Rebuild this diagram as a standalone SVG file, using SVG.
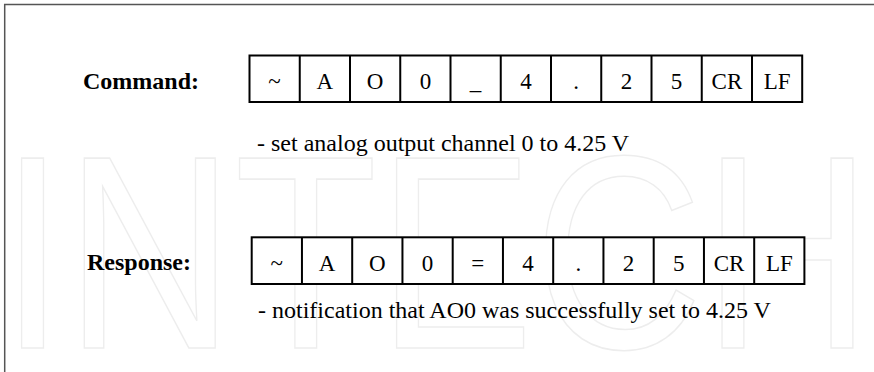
<svg xmlns="http://www.w3.org/2000/svg" width="874" height="372" viewBox="0 0 874 372">
<style>
.bg{fill:#ffffff}
.frame{stroke:#555555;stroke-width:1.5;fill:none}
.wm{font-family:"Liberation Sans",Arial,sans-serif;font-size:276px;fill:none;stroke:#ededed;stroke-width:1.6}
.cell{fill:#ffffff;stroke:#000000;stroke-width:2}
.lbl{font-family:"Liberation Serif","Times New Roman",serif;font-size:24px;font-weight:bold;fill:#000000}
.ct{font-family:"Liberation Serif","Times New Roman",serif;font-size:23px;fill:#000000;text-anchor:middle}
.desc{font-family:"Liberation Serif","Times New Roman",serif;font-size:24px;fill:#000000}
</style>
<rect class="bg" x="0" y="0" width="874" height="372"/>
<text class="wm" x="0" y="348" textLength="872" lengthAdjust="spacingAndGlyphs">INTECH</text>
<path class="frame" d="M4.7,372 V4.5 H874"/>
<g id="connectors"/>
<g id="command-label"><text class="lbl" x="83" y="89">Command:</text></g>
<g id="command-frame">
<rect class="cell" x="249.5" y="55.5" width="552.7" height="46.5"/>
<path class="cell" d="M299.75,55.5V102M350,55.5V102M400.25,55.5V102M450.5,55.5V102M500.75,55.5V102M551,55.5V102M601.25,55.5V102M651.5,55.5V102M701.75,55.5V102M752,55.5V102"/>
<text class="ct" y="88.5"><tspan x="274.6">~</tspan><tspan x="324.9">A</tspan><tspan x="375.1">O</tspan><tspan x="425.4">0</tspan><tspan x="475.6">_</tspan><tspan x="525.9">4</tspan><tspan x="576.1">.</tspan><tspan x="626.4">2</tspan><tspan x="676.6">5</tspan><tspan x="726.9">CR</tspan><tspan x="777.1">LF</tspan></text>
</g>
<g id="command-desc"><text class="desc" x="257" y="151">- set analog output channel 0 to 4.25 V</text></g>
<g id="response-label"><text class="lbl" x="87" y="270">Response:</text></g>
<g id="response-frame">
<rect class="cell" x="251.7" y="237.3" width="552.7" height="46.7"/>
<path class="cell" d="M301.95,237.3V284M352.2,237.3V284M402.45,237.3V284M452.7,237.3V284M502.95,237.3V284M553.2,237.3V284M603.45,237.3V284M653.7,237.3V284M703.95,237.3V284M754.2,237.3V284"/>
<text class="ct" y="270.5"><tspan x="276.8">~</tspan><tspan x="327.1">A</tspan><tspan x="377.3">O</tspan><tspan x="427.6">0</tspan><tspan x="477.8">=</tspan><tspan x="528.1">4</tspan><tspan x="578.3">.</tspan><tspan x="628.6">2</tspan><tspan x="678.8">5</tspan><tspan x="729.1">CR</tspan><tspan x="779.3">LF</tspan></text>
</g>
<g id="response-desc"><text class="desc" x="258" y="318">- notification that AO0 was successfully set to 4.25 V</text></g>
</svg>
